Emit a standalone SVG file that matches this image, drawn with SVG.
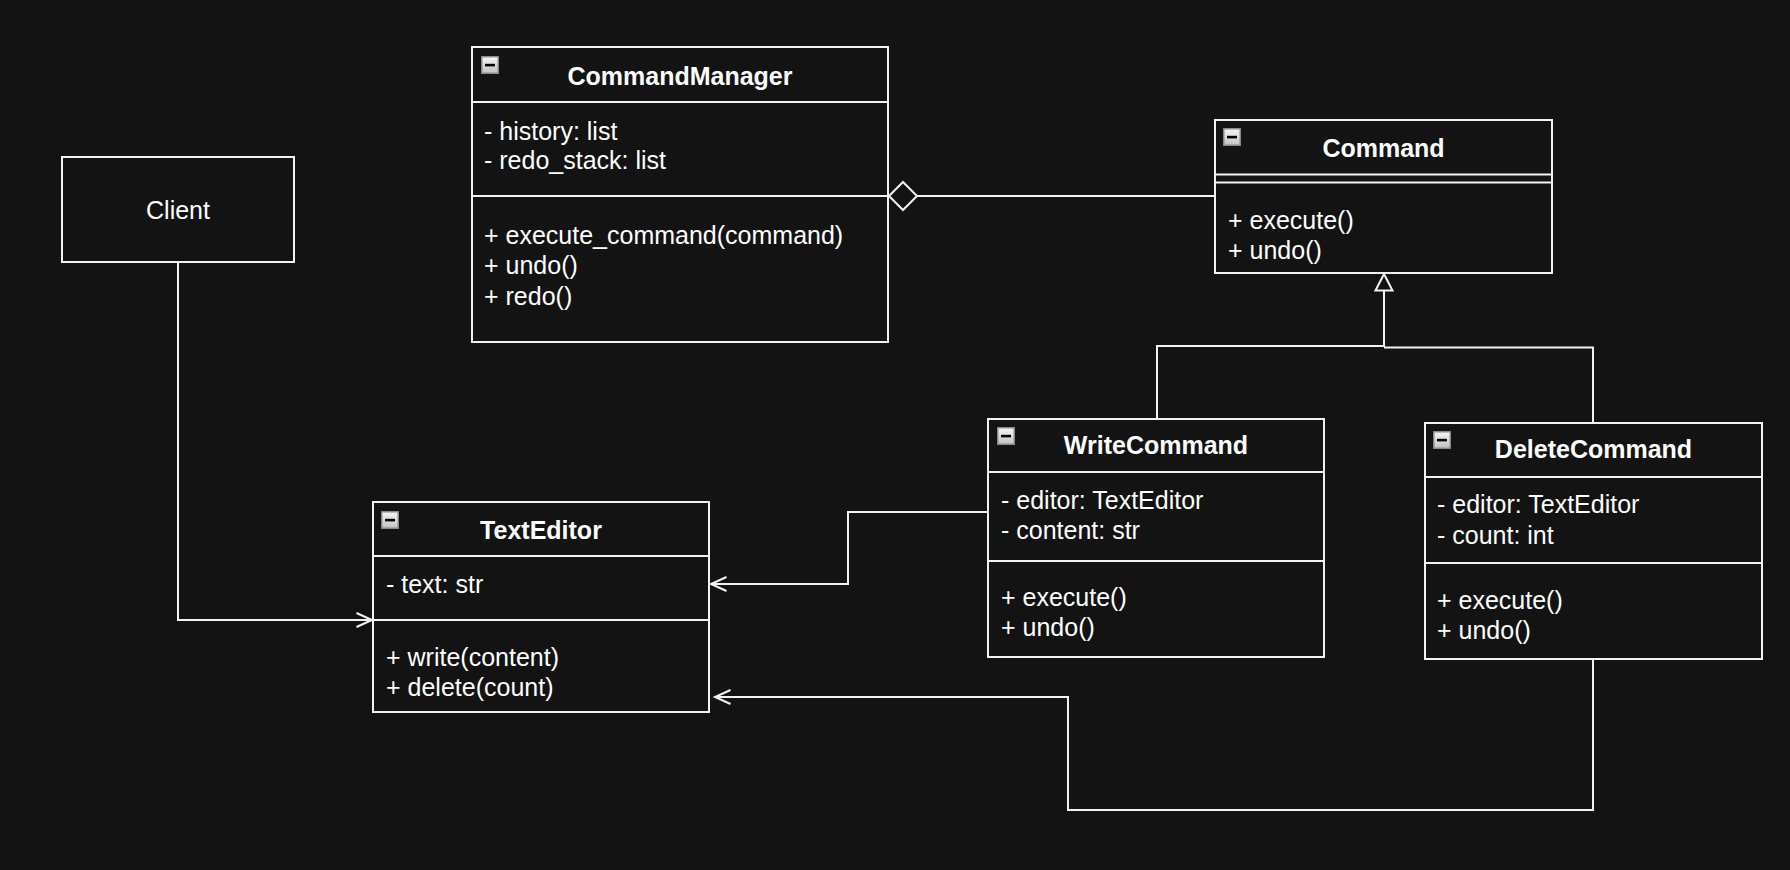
<svg xmlns="http://www.w3.org/2000/svg" width="1790" height="870" viewBox="0 0 1790 870">
  <style>
    .box { fill: #131313; stroke: #f2f2f2; stroke-width: 2; }
    .div { stroke: #f2f2f2; stroke-width: 2; fill: none; }
    .title { font-family: "Liberation Sans", Arial, sans-serif; font-size: 25px; font-weight: bold; fill: #ffffff; text-anchor: middle; }
    .txt { font-family: "Liberation Sans", Arial, sans-serif; font-size: 25px; fill: #ffffff; }
    .lbl { font-family: "Liberation Sans", Arial, sans-serif; font-size: 25px; fill: #ffffff; text-anchor: middle; }
    .conn { fill: none; stroke: #f2f2f2; stroke-width: 2; }
    .icon-bg { fill: url(#iconGrad); stroke: #8a8a8a; stroke-width: 1.5; }
    .icon-bar { fill: #000000; }
  </style>
  <defs>
    <linearGradient id="iconGrad" x1="0" y1="0" x2="0" y2="1">
      <stop offset="0" stop-color="#f7f7f7"/>
      <stop offset="1" stop-color="#c4c4c4"/>
    </linearGradient>
    <g id="collapse">
      <rect class="icon-bg" x="0.75" y="0.75" width="16.5" height="16.5"/>
      <rect class="icon-bar" x="4" y="7.8" width="10" height="2.6"/>
    </g>
    <marker id="openArrow" viewBox="0 0 18 16" refX="16.5" refY="8" markerWidth="18" markerHeight="16" markerUnits="userSpaceOnUse" orient="auto" overflow="visible">
      <path d="M1 1 L16.5 8 L1 15" fill="none" stroke="#f2f2f2" stroke-width="2"/>
    </marker>
    <marker id="hollowTri" viewBox="0 0 18 18" refX="17" refY="9" markerWidth="18" markerHeight="18" markerUnits="userSpaceOnUse" orient="auto" overflow="visible">
      <path d="M0.5 0.5 L17 9 L0.5 17.5 Z" fill="#131313" stroke="#f2f2f2" stroke-width="2"/>
    </marker>
    <marker id="diamond" viewBox="0 0 30 30" refX="0" refY="14.5" markerWidth="30" markerHeight="30" markerUnits="userSpaceOnUse" orient="auto" overflow="visible">
      <path d="M0 14.5 L14 0.5 L28 14.5 L14 28.5 Z" fill="#131313" stroke="#f2f2f2" stroke-width="2"/>
    </marker>
  </defs>

  <rect x="0" y="0" width="1790" height="870" fill="#131313"/>

  <g id="connectors">
    <path class="conn" d="M178 262 V620 H372" marker-end="url(#openArrow)"/>
    <path class="conn" d="M988 512 H848 V584 H711" marker-end="url(#openArrow)"/>
    <path class="conn" d="M1593 659 V810 H1068 V697 H715" marker-end="url(#openArrow)"/>
    <path class="conn" d="M1157 419 V346 H1384 V274" marker-end="url(#hollowTri)"/>
    <path class="conn" d="M1593 423 V347.5 H1384"/>
    <path class="conn" d="M889 196 H1215" marker-start="url(#diamond)"/>
  </g>

  <g id="client">
    <rect class="box" x="62" y="157" width="232" height="105"/>
    <text class="lbl" x="178" y="219">Client</text>
  </g>

  <g id="commandManager">
    <rect class="box" x="472" y="47" width="416" height="295"/>
    <use href="#collapse" x="481" y="56"/>
    <text class="title" x="680" y="85">CommandManager</text>
    <line class="div" x1="472" y1="102" x2="888" y2="102"/>
    <text class="txt" x="484" y="140">- history: list</text>
    <text class="txt" x="484" y="169">- redo_stack: list</text>
    <line class="div" x1="472" y1="196" x2="888" y2="196"/>
    <text class="txt" x="484" y="244">+ execute_command(command)</text>
    <text class="txt" x="484" y="274">+ undo()</text>
    <text class="txt" x="484" y="305">+ redo()</text>
  </g>

  <g id="command">
    <rect class="box" x="1215" y="120" width="337" height="153"/>
    <use href="#collapse" x="1223" y="128"/>
    <text class="title" x="1383.5" y="157">Command</text>
    <line class="div" x1="1215" y1="174.5" x2="1552" y2="174.5"/>
    <line class="div" x1="1215" y1="182.5" x2="1552" y2="182.5"/>
    <text class="txt" x="1228" y="229">+ execute()</text>
    <text class="txt" x="1228" y="259">+ undo()</text>
  </g>

  <g id="textEditor">
    <rect class="box" x="373" y="502" width="336" height="210"/>
    <use href="#collapse" x="381" y="511"/>
    <text class="title" x="541" y="539">TextEditor</text>
    <line class="div" x1="373" y1="556" x2="709" y2="556"/>
    <text class="txt" x="386" y="593">- text: str</text>
    <line class="div" x1="373" y1="620" x2="709" y2="620"/>
    <text class="txt" x="386" y="666">+ write(content)</text>
    <text class="txt" x="386" y="696">+ delete(count)</text>
  </g>

  <g id="writeCommand">
    <rect class="box" x="988" y="419" width="336" height="238"/>
    <use href="#collapse" x="997" y="427"/>
    <text class="title" x="1156" y="454">WriteCommand</text>
    <line class="div" x1="988" y1="472" x2="1324" y2="472"/>
    <text class="txt" x="1001" y="509">- editor: TextEditor</text>
    <text class="txt" x="1001" y="539">- content: str</text>
    <line class="div" x1="988" y1="561" x2="1324" y2="561"/>
    <text class="txt" x="1001" y="606">+ execute()</text>
    <text class="txt" x="1001" y="636">+ undo()</text>
  </g>

  <g id="deleteCommand">
    <rect class="box" x="1425" y="423" width="337" height="236"/>
    <use href="#collapse" x="1433" y="431"/>
    <text class="title" x="1593.5" y="458">DeleteCommand</text>
    <line class="div" x1="1425" y1="477" x2="1762" y2="477"/>
    <text class="txt" x="1437" y="513">- editor: TextEditor</text>
    <text class="txt" x="1437" y="544">- count: int</text>
    <line class="div" x1="1425" y1="563" x2="1762" y2="563"/>
    <text class="txt" x="1437" y="609">+ execute()</text>
    <text class="txt" x="1437" y="639">+ undo()</text>
  </g>
</svg>
